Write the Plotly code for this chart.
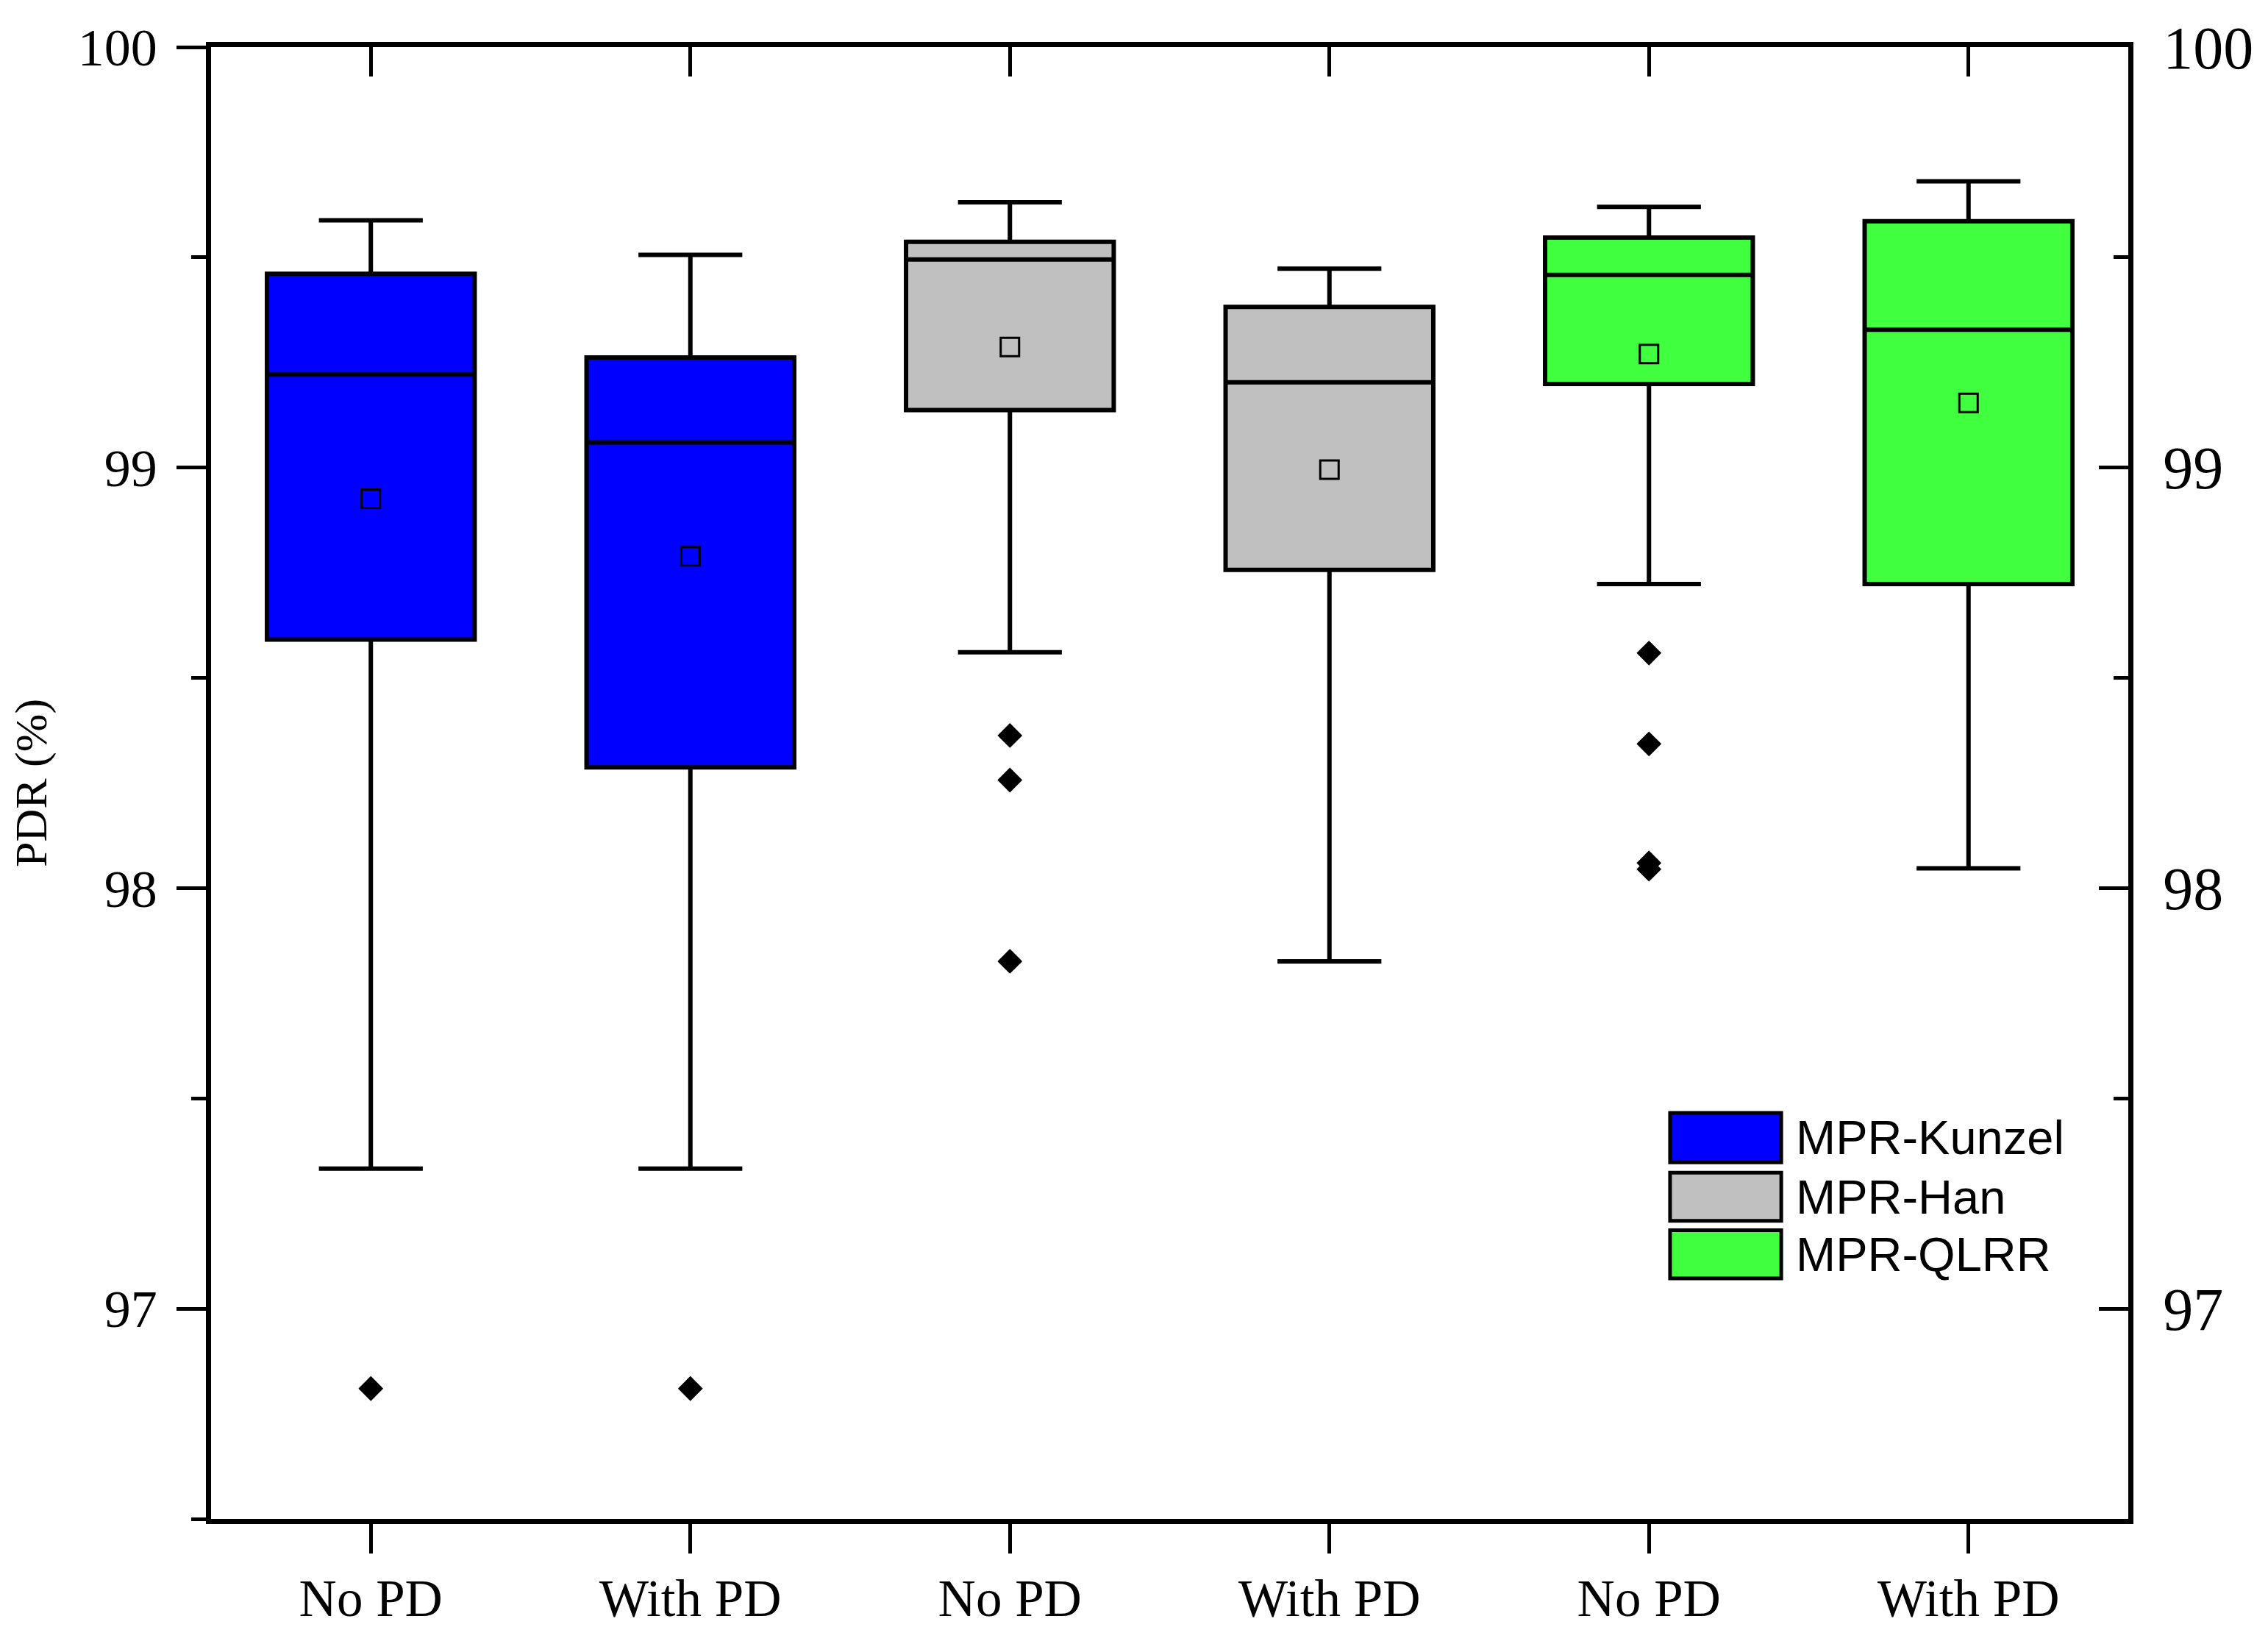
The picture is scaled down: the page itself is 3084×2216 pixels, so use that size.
"""PDR box plot: MPR-Kunzel / MPR-Han / MPR-QLRR, with and without PD."""
import plotly.graph_objects as go

# category positions and labels
positions = [0, 1, 2, 3, 4, 5]
categories = ["No PD", "With PD", "No PD", "With PD", "No PD", "With PD"]

series_names = ["MPR-Kunzel", "MPR-Han", "MPR-QLRR"]
series_colors = ["#0000FF", "#C0C0C0", "#3FFF3F"]

# box statistics (No PD, With PD) per series
kunzel_upper = [99.588, 99.506]
kunzel_q3 = [99.461, 99.262]
kunzel_median = [99.221, 99.060]
kunzel_q1 = [98.591, 98.287]
kunzel_lower = [97.333, 97.333]
kunzel_mean = [98.926, 98.789]

han_upper = [99.631, 99.473]
han_q3 = [99.537, 99.382]
han_median = [99.495, 99.203]
han_q1 = [99.137, 98.757]
han_lower = [98.561, 97.826]
han_mean = [99.287, 98.995]

qlrr_upper = [99.620, 99.681]
qlrr_q3 = [99.547, 99.586]
qlrr_median = [99.458, 99.328]
qlrr_q1 = [99.199, 98.723]
qlrr_lower = [98.723, 98.047]
qlrr_mean = [99.270, 99.154]

# outliers (x position index, value)
outlier_x = [0, 1, 2, 2, 2, 4, 4, 4, 4]
outlier_y = [96.810, 96.810, 98.363, 98.257, 97.826,
             98.559, 98.343, 98.060, 98.045]

y_ticks = [97, 98, 99, 100]
y_minor = [96.5, 97.5, 98.5, 99.5]

stats = [
    (kunzel_upper, kunzel_q3, kunzel_median, kunzel_q1, kunzel_lower, kunzel_mean),
    (han_upper, han_q3, han_median, han_q1, han_lower, han_mean),
    (qlrr_upper, qlrr_q3, qlrr_median, qlrr_q1, qlrr_lower, qlrr_mean),
]

serif = "Liberation Serif"
fig = go.Figure()

means_x, means_y = [], []
for i, (up, q3, med, q1, lo, mn) in enumerate(stats):
    xs = positions[2 * i:2 * i + 2]
    fig.add_trace(go.Box(
        x=xs, q1=q1, median=med, q3=q3, lowerfence=lo, upperfence=up,
        width=0.65, whiskerwidth=0.5, boxpoints=False,
        fillcolor=series_colors[i], line=dict(color="black", width=6),
        name=series_names[i], showlegend=False))
    means_x += xs
    means_y += mn

fig.add_trace(go.Scatter(
    x=means_x, y=means_y, mode="markers", showlegend=False,
    marker=dict(symbol="square-open", size=25, color="black",
                line=dict(width=3, color="black"))))

fig.add_trace(go.Scatter(
    x=[positions[i] for i in outlier_x], y=outlier_y, mode="markers",
    showlegend=False,
    marker=dict(symbol="diamond", size=26, color="black")))

# dummy trace so the mirrored top/right axes get drawn
fig.add_trace(go.Scatter(
    x=[positions[0]], y=[kunzel_median[0]], xaxis="x2", yaxis="y2",
    mode="markers", marker=dict(opacity=0), hoverinfo="skip",
    showlegend=False))

# hand-made legend with large swatches
sw_x0, sw_x1, txt_x = 0.761, 0.819, 0.826
rows = [(0.2758, 0.2422), (0.2352, 0.2025), (0.1961, 0.1634)]
for (y1, y0), name, col in zip(rows, series_names, series_colors):
    fig.add_shape(type="rect", xref="paper", yref="paper",
                  x0=sw_x0, x1=sw_x1, y0=y0, y1=y1,
                  fillcolor=col, line=dict(color="black", width=5))
    fig.add_annotation(x=txt_x, y=(y0 + y1) / 2, xref="paper", yref="paper",
                       text=name, showarrow=False, xanchor="left",
                       yanchor="middle",
                       font=dict(family="Liberation Sans", size=65,
                                 color="black"))

axis_common = dict(showline=True, linewidth=6.5, linecolor="black",
                   showgrid=False, zeroline=False, tickcolor="black",
                   tickwidth=5, ticklen=40)

fig.update_layout(
    width=3084, height=2216,
    margin=dict(l=279, r=198, t=54, b=124),
    paper_bgcolor="white", plot_bgcolor="white",
    xaxis=dict(range=[-0.5, 5.5], tickvals=positions, ticktext=categories,
               ticks="outside",
               tickfont=dict(family=serif, size=71, color="black"),
               **axis_common),
    xaxis2=dict(range=[-0.5, 5.5], tickvals=positions, overlaying="x",
                side="top", ticks="inside", showticklabels=False,
                **axis_common),
    yaxis=dict(range=[96.5, 100], tickvals=y_ticks, ticks="outside",
               tickfont=dict(family=serif, size=72, color="black"),
               ticklabelstandoff=12,
               title=dict(text="PDR (%)", standoff=38,
                          font=dict(family=serif, size=62, color="black")),
               minor=dict(tickvals=y_minor, ticks="outside", ticklen=20,
                          tickwidth=5, tickcolor="black"),
               **axis_common),
    yaxis2=dict(range=[96.5, 100], tickvals=y_ticks, overlaying="y",
                side="right", ticks="inside", ticklabelstandoff=24,
                tickfont=dict(family=serif, size=82, color="black"),
                minor=dict(tickvals=y_minor, ticks="inside", ticklen=20,
                           tickwidth=5, tickcolor="black"),
                **axis_common),
)

fig.write_html("out.html")
